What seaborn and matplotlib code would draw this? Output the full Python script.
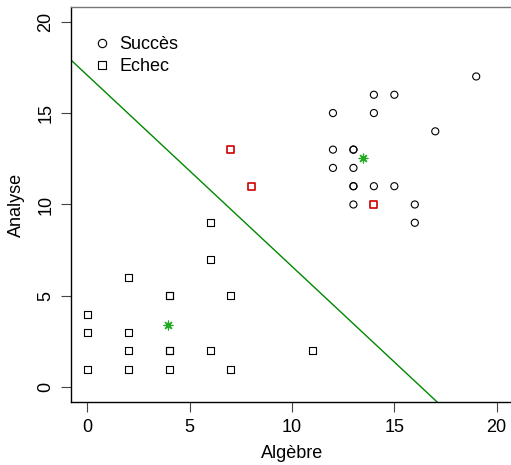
import matplotlib
matplotlib.use("Agg")
import matplotlib.pyplot as plt
import seaborn as sns
import pandas as pd
from matplotlib.lines import Line2D

# Succès (circles)
succes_x = [19, 14, 15, 12, 14, 17, 12, 13, 13, 12, 13, 13, 13, 14, 15, 13, 16, 16]
succes_y = [17, 16, 16, 15, 15, 14, 13, 13, 13, 12, 12, 11, 11, 11, 11, 10, 10, 9]
# Echec (black squares)
echec_x = [6, 6, 2, 4, 4, 7, 0, 0, 2, 4, 4, 2, 6, 11, 0, 2, 4, 7]
echec_y = [9, 7, 6, 5, 5, 5, 4, 3, 3, 2, 2, 2, 2, 2, 1, 1, 1, 1]
# misclassified (red squares)
mis_x = [7, 8, 14]
mis_y = [13, 11, 10]
# centroids (green asterisks)
cent_x = [13.48, 3.94]
cent_y = [12.52, 3.39]
# separating line
line_intercept = 17.06
line_slope = -1.045

xticks = [0, 5, 10, 15, 20]
yticks = [0, 5, 10, 15, 20]

sns.set_style("white")
plt.rcParams['font.family'] = ['Liberation Sans', 'DejaVu Sans']
plt.rcParams['text.color'] = 'black'
plt.rcParams['axes.labelcolor'] = 'black'
plt.rcParams['xtick.color'] = 'black'
plt.rcParams['ytick.color'] = 'black'

fig = plt.figure(figsize=(5.11, 4.65), dpi=100)
ax = fig.add_axes([0.139, 0.1355, 0.865, 0.8495])

df_s = pd.DataFrame({"x": succes_x, "y": succes_y})
df_e = pd.DataFrame({"x": echec_x, "y": echec_y})
df_m = pd.DataFrame({"x": mis_x, "y": mis_y})
df_c = pd.DataFrame({"x": cent_x, "y": cent_y})

sns.scatterplot(data=df_s, x="x", y="y", marker="o", s=26, facecolor="none",
                edgecolor="black", linewidth=0.8, ax=ax, legend=False)
sns.scatterplot(data=df_e, x="x", y="y", marker="s", s=26, facecolor="none",
                edgecolor="black", linewidth=0.8, ax=ax, legend=False)
sns.scatterplot(data=df_m, x="x", y="y", marker="s", s=26, facecolor="none",
                edgecolor="#d00000", linewidth=1.2, ax=ax, legend=False)
sns.scatterplot(data=df_c, x="x", y="y", marker=(8, 2, 0), s=40, color="#22aa22",
                edgecolor="#119911", linewidth=0.9, ax=ax, legend=False)

ax.axline((0, line_intercept), slope=line_slope, color="#008800", linewidth=1.0)

ax.set_xlim(-0.8, 20.8)
ax.set_ylim(-0.8, 20.8)
ax.set_xticks(xticks)
ax.set_yticks(yticks)
ax.set_xticklabels([str(t) for t in xticks], fontsize=13)
ax.set_yticklabels([str(t) for t in yticks], fontsize=13, rotation=90, va="center")
ax.tick_params(axis="both", direction="out", length=7, width=0.8, color="#444444",
               labelcolor="black", bottom=True, left=True, pad=5)
ax.set_xlabel("Algèbre", fontsize=13, labelpad=7, color="black")
ax.set_ylabel("Analyse", fontsize=13, labelpad=9, color="black")
for sp in ax.spines.values():
    sp.set_color("black")
    sp.set_linewidth(1.0)
ax.spines["top"].set_color("#777777")
ax.spines["right"].set_visible(False)

handles = [
    Line2D([], [], marker="o", linestyle="none", markerfacecolor="none",
           markeredgecolor="black", markersize=6, markeredgewidth=0.8),
    Line2D([], [], marker="s", linestyle="none", markerfacecolor="none",
           markeredgecolor="black", markersize=6, markeredgewidth=0.8),
]
leg = ax.legend(handles, ["Succès", "Echec"], loc="upper left", frameon=False,
                fontsize=13, handletextpad=0.45, borderaxespad=0.0,
                bbox_to_anchor=(0.034, 0.945), labelspacing=0.3, handlelength=1.0)
for t in leg.get_texts():
    t.set_color("black")

fig.savefig("out.png", dpi=100)
